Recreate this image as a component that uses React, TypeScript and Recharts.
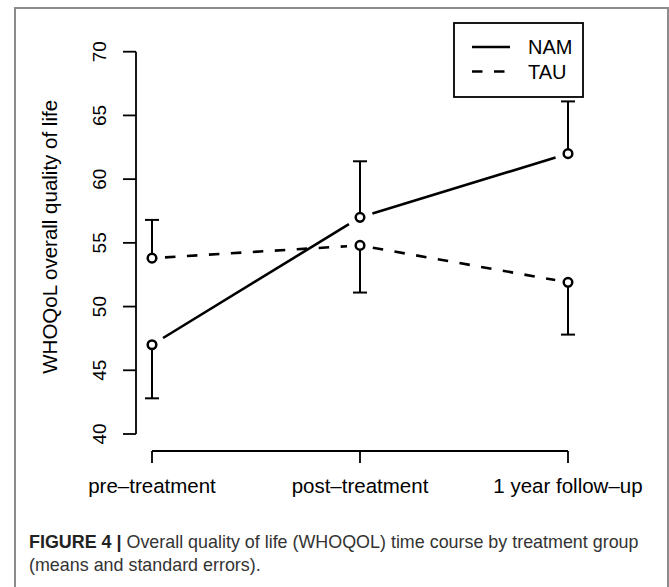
import React from 'react'
import {
  ComposedChart,
  Line,
  ErrorBar,
  XAxis,
  YAxis,
  Legend,
} from 'recharts'

// time points and group summaries (means, one-sided standard errors)
const categories = ['pre–treatment', 'post–treatment', '1 year follow–up']
const namMeans = [47.0, 57.0, 62.0]
const namErrors = [4.2, 4.4, 4.1]
const namErrorSide = [-1, 1, 1]
const tauMeans = [53.8, 54.8, 51.9]
const tauErrors = [3.0, 3.7, 4.1]
const tauErrorSide = [1, -1, -1]
const yTicks = [40, 45, 50, 55, 60, 65, 70]
const seriesNames = ['NAM', 'TAU']

const FONT = '"Liberation Sans", Arial, Helvetica, sans-serif'
const TAU_DASH = '10.5 11.5'
const GAP = 13

const errPair = (err: number, side: number) => (side < 0 ? [err, 0] : [0, err])

const chartData = categories.map((label, i) => ({
  label,
  nam: namMeans[i],
  namErr: errPair(namErrors[i], namErrorSide[i]),
  namCap: namMeans[i] + namErrorSide[i] * namErrors[i],
  tau: tauMeans[i],
  tauErr: errPair(tauErrors[i], tauErrorSide[i]),
  tauCap: tauMeans[i] + tauErrorSide[i] * tauErrors[i],
}))

// R type="b": each segment stops short of the points at both ends
const segmentDot = (dash?: string) => (props: any) => {
  const { points, index, cx, cy } = props
  const next = points && points[index + 1]
  if (!next) return <g key={`seg-${index}`} />
  const dx = next.x - cx
  const dy = next.y - cy
  const len = Math.hypot(dx, dy) || 1
  const ux = dx / len
  const uy = dy / len
  return (
    <line
      key={`seg-${index}`}
      x1={cx + ux * GAP}
      y1={cy + uy * GAP}
      x2={next.x - ux * GAP}
      y2={next.y - uy * GAP}
      stroke="#000"
      strokeWidth={2.6}
      strokeDasharray={dash}
    />
  )
}

const CapDot = (props: any) => (
  <line
    key={`cap-${props.index}`}
    x1={props.cx - 7}
    x2={props.cx + 7}
    y1={props.cy}
    y2={props.cy}
    stroke="#000"
    strokeWidth={2}
  />
)

const RingDot = (props: any) => (
  <circle
    key={`ring-${props.index}`}
    cx={props.cx}
    cy={props.cy}
    r={4.3}
    fill="#fff"
    stroke="#000"
    strokeWidth={2.5}
  />
)

const XTick = ({ x, y, payload }: any) => (
  <text x={x} y={y + 47} textAnchor="middle" fontSize={20.5} fontFamily={FONT} fill="#000">
    {payload.value}
  </text>
)

const YTick = ({ x, y, payload }: any) => {
  const tx = x - 33
  return (
    <text
      x={tx}
      y={y}
      transform={`rotate(-90 ${tx} ${y})`}
      textAnchor="middle"
      fontSize={19}
      fontFamily={FONT}
      fill="#000"
    >
      {payload.value}
    </text>
  )
}

const YTitle = ({ viewBox }: any) => {
  const cx = viewBox.x - 26
  const cy = viewBox.y + viewBox.height / 2 - 6
  return (
    <text
      x={cx}
      y={cy}
      transform={`rotate(-90 ${cx} ${cy})`}
      textAnchor="middle"
      dominantBaseline="central"
      fontSize={20.5}
      fontFamily={FONT}
      fill="#000"
    >
      WHOQoL overall quality of life
    </text>
  )
}

const LegendBox = () => (
  <svg width={131} height={76} style={{ display: 'block' }}>
    <rect x={1} y={1} width={129} height={74} fill="#fff" stroke="#000" strokeWidth={1.8} />
    {seriesNames.map((name, i) => {
      const y = 25 + i * 24.5
      return (
        <g key={name}>
          <line
            x1={19}
            x2={57}
            y1={y}
            y2={y}
            stroke="#000"
            strokeWidth={2.6}
            strokeDasharray={i === 1 ? TAU_DASH : undefined}
          />
          <text x={75} y={y} dominantBaseline="central" fontSize={20} fontFamily={FONT} fill="#000">
            {name}
          </text>
        </g>
      )
    })}
  </svg>
)

const App = () => {
  return (
    <div
      style={{
        position: 'absolute',
        left: 0,
        top: 0,
        width: 669,
        height: 587,
        overflow: 'hidden',
        background: '#fff',
        fontFamily: FONT,
      }}
    >
      <style>{`
        .recharts-xAxis { transform: translateY(17px); }
        .recharts-yAxis { transform: translateX(-16px); }
      `}</style>
      <div
        style={{
          position: 'absolute',
          left: 14,
          top: 7,
          width: 651,
          height: 620,
          border: '2px solid #8c8c8c',
        }}
      />
      <div style={{ position: 'absolute', left: 0, top: 0 }}>
        <ComposedChart
          width={669}
          height={520}
          data={chartData}
          margin={{ top: 51.7, right: 101, bottom: 26, left: 92 }}
        >
          <XAxis
            dataKey="label"
            type="category"
            scale="point"
            padding={{ left: 0, right: 0 }}
            interval={0}
            height={60}
            tickSize={12}
            tickMargin={0}
            axisLine={{ stroke: '#000', strokeWidth: 1.8 }}
            tickLine={{ stroke: '#000', strokeWidth: 1.8 }}
            tick={<XTick />}
          />
          <YAxis
            type="number"
            domain={[40, 70]}
            ticks={yTicks}
            width={60}
            tickSize={13}
            tickMargin={0}
            axisLine={{ stroke: '#000', strokeWidth: 1.8 }}
            tickLine={{ stroke: '#000', strokeWidth: 1.8 }}
            tick={<YTick />}
            label={<YTitle />}
          />
          <Legend
            layout="horizontal"
            verticalAlign="middle"
            align="center"
            content={<LegendBox />}
            wrapperStyle={{ left: 453, top: 22, width: 131, height: 76 }}
          />
          <Line
            dataKey="nam"
            name="NAM"
            stroke="none"
            dot={segmentDot()}
            activeDot={false}
            isAnimationActive={false}
          />
          <Line
            dataKey="tau"
            name="TAU"
            stroke="none"
            dot={segmentDot(TAU_DASH)}
            activeDot={false}
            isAnimationActive={false}
          />
          <Line
            dataKey="namCap"
            stroke="none"
            legendType="none"
            dot={CapDot}
            activeDot={false}
            isAnimationActive={false}
          />
          <Line
            dataKey="tauCap"
            stroke="none"
            legendType="none"
            dot={CapDot}
            activeDot={false}
            isAnimationActive={false}
          />
          <Line
            dataKey="nam"
            stroke="none"
            legendType="none"
            dot={RingDot}
            activeDot={false}
            isAnimationActive={false}
          >
            <ErrorBar dataKey="namErr" direction="y" width={0} stroke="#000" strokeWidth={2} />
          </Line>
          <Line
            dataKey="tau"
            stroke="none"
            legendType="none"
            dot={RingDot}
            activeDot={false}
            isAnimationActive={false}
          >
            <ErrorBar dataKey="tauErr" direction="y" width={0} stroke="#000" strokeWidth={2} />
          </Line>
        </ComposedChart>
      </div>
      <div
        style={{
          position: 'absolute',
          left: 29,
          top: 531,
          width: 640,
          fontSize: 17.9,
          lineHeight: '23px',
          color: '#333',
          whiteSpace: 'nowrap',
        }}
      >
        <b style={{ color: '#222' }}>FIGURE 4 |</b> Overall quality of life (WHOQOL) time course by treatment group
        <br />
        (means and standard errors).
      </div>
    </div>
  )
}

export default App
